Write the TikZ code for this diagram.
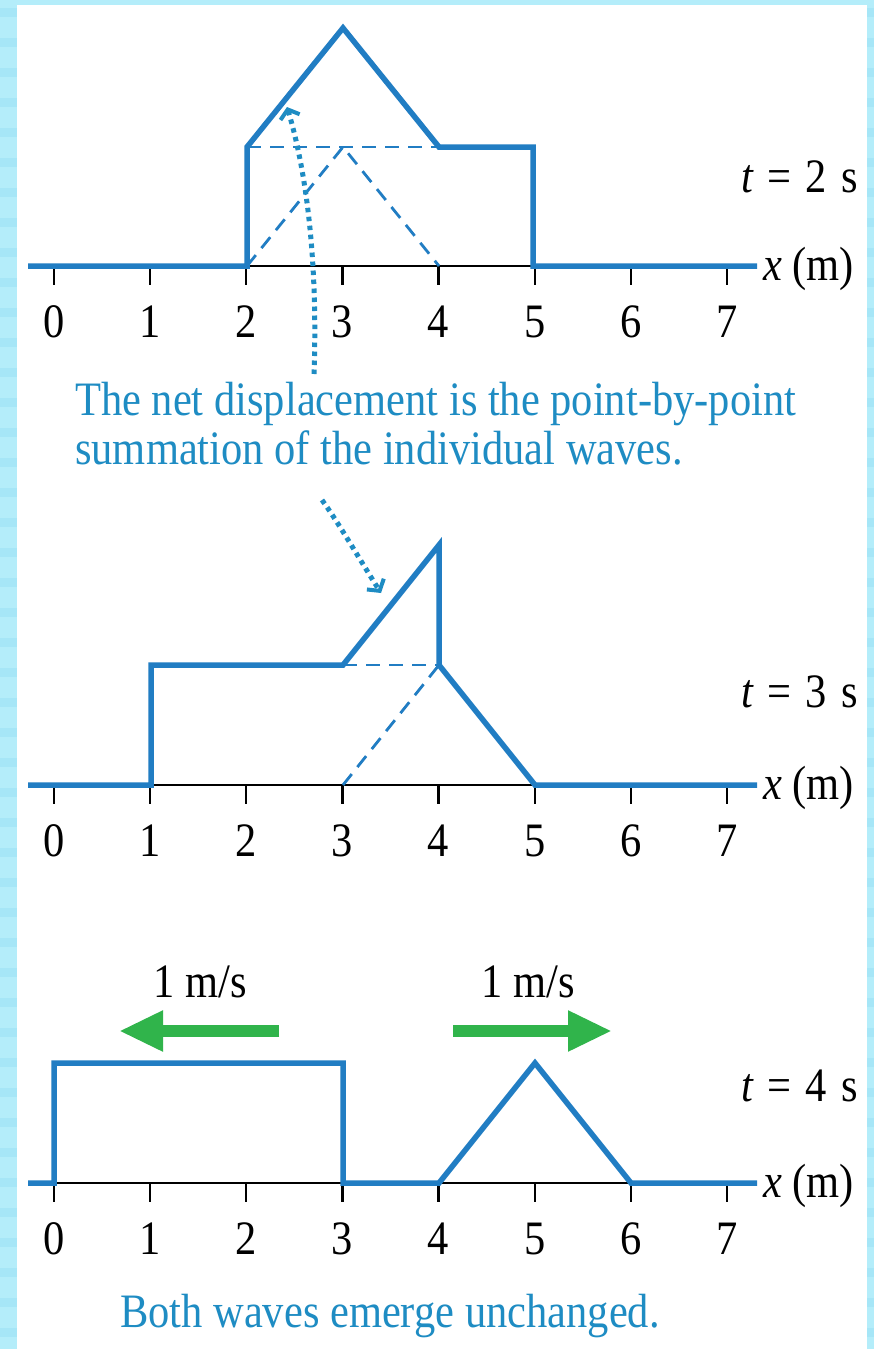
\documentclass[tikz,border=0pt]{standalone}
\usepackage{fontspec}
\setmainfont{Liberation Serif}[FakeStretch=0.885]
\usetikzlibrary{arrows.meta}
\definecolor{waveblue}{RGB}{33,125,195}
\definecolor{notecyan}{RGB}{30,140,195}
\definecolor{arrowgreen}{RGB}{48,180,75}
\definecolor{bgcyan}{RGB}{180,237,250}
\definecolor{bgcyanB}{RGB}{150,222,245}
\begin{document}
\begin{tikzpicture}[x=1pt,y=-1pt,
  wave/.style={draw=waveblue,line width=5.5pt,line join=miter,miter limit=20},
  axisline/.style={draw=black,line width=2.2pt},
  tickmark/.style={draw=black,line width=2.2pt},
  dashwave/.style={draw=waveblue,line width=2.8pt,dash pattern=on 14pt off 9pt},
  num/.style={font=\fontsize{48}{50}\selectfont,inner sep=0pt},
  lbl/.style={font=\fontsize{48}{50}\selectfont,inner sep=0pt},
  note/.style={text=notecyan,font=\fontsize{48}{52}\selectfont,inner sep=0pt},
  dotarrow/.style={draw=notecyan,line width=5pt,dash pattern=on 4.5pt off 4.5pt,
    -{Straight Barb[length=8pt,width=20pt,line width=4pt]}},
  greenarrow/.style={draw=arrowgreen,line width=12pt,-{Triangle[length=44pt,width=38pt]}},
]
% background
\fill[bgcyan] (0,0) rectangle (874,1349);
\foreach \i in {0,...,44}{
  \fill[bgcyanB,opacity=0.45] (0,{\i*30+8}) rectangle (874,{\i*30+17});
}
\fill[white] (17,5) rectangle (867,1349);
\useasboundingbox (0,0) rectangle (874,1349);

% axes, ticks, numbers
\foreach \Y/\p in {266/a,785/b,1183/c}{
  \draw[axisline] (28,\Y) -- (757,\Y);
  \foreach \k in {0,...,7}{
    \draw[tickmark] ({54+96.14*\k},\Y) -- ({54+96.14*\k},\Y+19);
    \node[num] (\p\k) at ({54+96.14*\k},\Y+56) {\k};
  }
  \node[lbl,anchor=west] (\p x) at (763,\Y+3) {\itshape x\upshape\ (m)};
}

% ---- panel 1 (t = 2 s)
\draw[dashwave] (247,147) -- (439,147);
\draw[dashwave] (247,266) -- (343,147) -- (439,266);
\draw[wave] (28,266) -- (247,266) -- (247,147) -- (343,28) -- (439,147) -- (533,147) -- (533,266) -- (757,266);
\node[lbl,anchor=east] (t2) at (858,177) {\itshape t\upshape\hspace{0.3em}=\hspace{0.3em}2\hspace{0.3em}s};

% ---- panel 2 (t = 3 s)
\draw[dashwave] (343,665) -- (439,665);
\draw[dashwave] (343,785) -- (439,665);
\draw[wave] (28,785) -- (151,785) -- (151,665) -- (343,665) -- (439,545) -- (439,665) -- (535,785) -- (757,785);
\node[lbl,anchor=east] (t3) at (858,692) {\itshape t\upshape\hspace{0.3em}=\hspace{0.3em}3\hspace{0.3em}s};

% ---- panel 3 (t = 4 s)
\draw[wave] (28,1183) -- (54,1183) -- (54,1063) -- (343,1063) -- (343,1183) -- (439,1183) -- (535,1063) -- (631,1183) -- (757,1183);
\node[lbl,anchor=east] (t4) at (858,1086) {\itshape t\upshape\hspace{0.3em}=\hspace{0.3em}4\hspace{0.3em}s};

% green velocity arrows
\coordinate (gl1) at (279,1031);
\coordinate (gl2) at (119,1031);
\coordinate (gr1) at (453,1031);
\coordinate (gr2) at (612,1031);
\draw[greenarrow] (gl1) -- (gl2);
\draw[greenarrow] (gr1) -- (gr2);
\node[lbl] (vl) at (200,982) {1 m/s};
\node[lbl] (vr) at (528,982) {1 m/s};

% annotation
\node[note,anchor=base west] (note1) at (75,415) {The net displacement is the point-by-point};
\node[note,anchor=base west] (note2) at (75,464) {summation of the individual waves.};
\coordinate (tail1) at (314,374);
\coordinate (tip1) at (287,107);
\coordinate (tail2) at (322,500);
\coordinate (tip2) at (381,593);
\draw[dotarrow] (tail1) .. controls (318,260) and (306,170) .. (tip1);
\draw[dotarrow] (tail2) .. controls (338,522) and (360,560) .. (tip2);

% bottom caption
\node[note,anchor=base west] (cap) at (120,1327) {Both waves emerge unchanged.};
\end{tikzpicture}
\end{document}
